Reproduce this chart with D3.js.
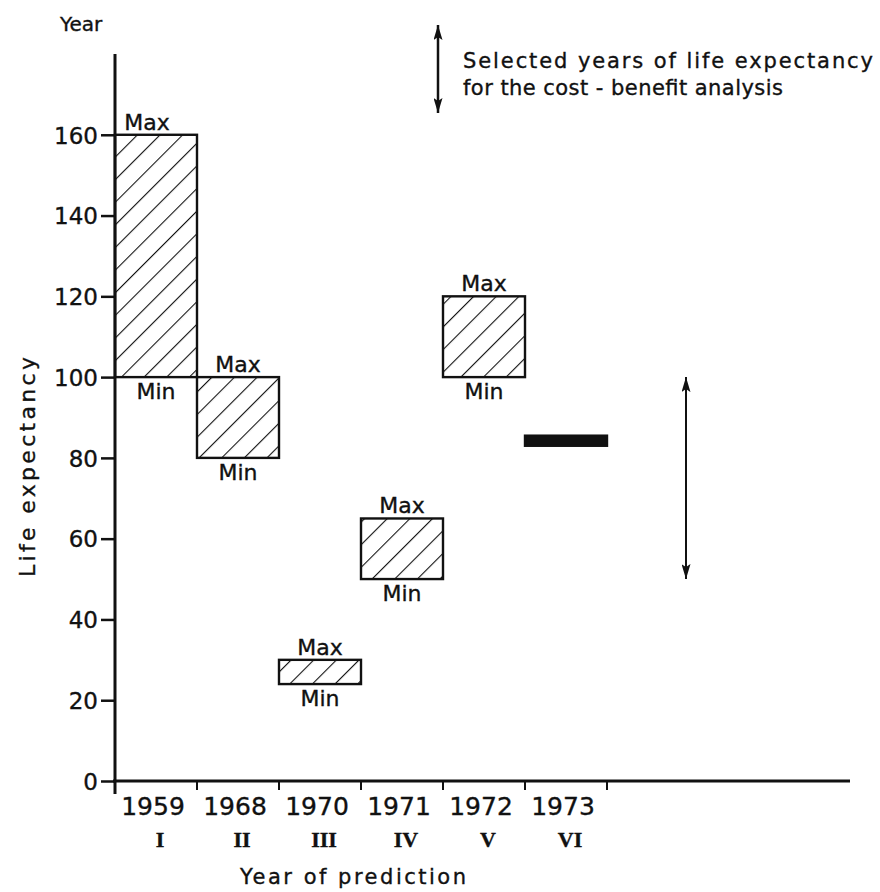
<!DOCTYPE html>
<html>
<head>
<meta charset="utf-8">
<script src="https://cdn.jsdelivr.net/npm/d3@7"></script>
<style>
  body { margin: 0; background: #fff; }
  svg text { font-family: "DejaVu Sans", sans-serif; fill: #111; stroke: #111; stroke-width: 0.35; }
</style>
</head>
<body>
<div id="chart"></div>
<script>
// === DATA ===
const years = ["1959", "1968", "1970", "1971", "1972", "1973"];
const numerals = ["I", "II", "III", "IV", "V", "VI"];
const minValues = [100, 80, 24, 50, 100, 83];
const maxValues = [160, 100, 30, 65, 120, 85.5];
const yTicks = [0, 20, 40, 60, 80, 100, 120, 140, 160];
const selectedRange = [50, 100];

const bars = years.map((y, i) => ({ year: y, num: numerals[i], min: minValues[i], max: maxValues[i] }));

// === LAYOUT ===
const width = 880, height = 892;
const x0 = 115, y0 = 781;

const svg = d3.select("#chart").append("svg")
    .attr("width", width)
    .attr("height", height);

const x = d3.scaleBand().domain(years).range([x0, 607]).padding(0);
const y = d3.scaleLinear().domain([0, 180]).range([y0, 54]);

// hatch pattern + arrow heads
const defs = svg.append("defs");
defs.append("pattern")
    .attr("id", "hatch")
    .attr("patternUnits", "userSpaceOnUse")
    .attr("width", 16).attr("height", 16)
    .attr("patternTransform", "rotate(45)")
    .append("line")
    .attr("x1", 0).attr("y1", 0).attr("x2", 0).attr("y2", 16)
    .attr("stroke", "#111").attr("stroke-width", 2.2);

["start", "end"].forEach(k => {
    defs.append("marker")
        .attr("id", "head-" + k)
        .attr("viewBox", "0 0 10 10")
        .attr("preserveAspectRatio", "none")
        .attr("refX", 10).attr("refY", 5)
        .attr("markerWidth", 15).attr("markerHeight", 9)
        .attr("markerUnits", "userSpaceOnUse")
        .attr("orient", k === "start" ? "auto-start-reverse" : "auto")
        .append("path")
        .attr("d", "M0,0 L10,5 L0,10 L2,5 Z")
        .attr("fill", "#111");
});

// === AXES ===
const yAxis = d3.axisLeft(y).tickValues(yTicks).tickSize(14).tickSizeOuter(0).tickPadding(3);
const gy = svg.append("g").attr("transform", `translate(${x0},0)`).call(yAxis);
gy.select(".domain").remove();
gy.selectAll(".tick line").attr("stroke", "#111").attr("stroke-width", 2.5);
gy.selectAll(".tick text").attr("font-size", 23).attr("dy", "0.36em")
    .style("font-family", "DejaVu Sans");

// vertical axis line, slightly past 0 like the drawing
svg.append("line")
    .attr("x1", x0).attr("x2", x0)
    .attr("y1", y(180)).attr("y2", y0 + 13)
    .attr("stroke", "#111").attr("stroke-width", 3);

// horizontal axis
svg.append("line")
    .attr("x1", x0 - 2).attr("x2", 850)
    .attr("y1", y0).attr("y2", y0)
    .attr("stroke", "#111").attr("stroke-width", 3);

// ticks between year bands
svg.append("g").selectAll("line")
    .data(years)
    .enter().append("line")
    .attr("x1", d => x(d) + x.bandwidth())
    .attr("x2", d => x(d) + x.bandwidth())
    .attr("y1", y0).attr("y2", y0 + 9)
    .attr("stroke", "#111").attr("stroke-width", 2);

const xl = svg.append("g").selectAll("g")
    .data(bars)
    .enter().append("g")
    .attr("transform", d => `translate(${x(d.year) + x.bandwidth() / 2},0)`);

xl.append("text")
    .attr("y", 815)
    .attr("text-anchor", "middle")
    .attr("font-size", 25)
    .attr("dx", -3)
    .text(d => d.year);

xl.append("text")
    .attr("y", 847)
    .attr("dx", 4)
    .attr("text-anchor", "middle")
    .attr("font-size", 22)
    .attr("font-weight", "bold")
    .style("font-family", "Liberation Serif")
    .text(d => d.num);

// axis titles
svg.append("text")
    .attr("x", 240).attr("y", 884)
    .attr("font-size", 21)
    .attr("textLength", 226).attr("lengthAdjust", "spacing")
    .text("Year of prediction");

svg.append("text")
    .attr("transform", "translate(35,467) rotate(-90)")
    .attr("text-anchor", "middle")
    .attr("font-size", 22)
    .attr("textLength", 220).attr("lengthAdjust", "spacing")
    .text("Life expectancy");

svg.append("text")
    .attr("x", 60).attr("y", 31)
    .attr("font-size", 20)
    .text("Year");

// === BARS ===
const bar = svg.append("g").selectAll("g")
    .data(bars)
    .enter().append("g");

bar.append("rect")
    .attr("x", d => x(d.year))
    .attr("y", d => y(d.max))
    .attr("width", x.bandwidth())
    .attr("height", d => y(d.min) - y(d.max))
    .attr("fill", d => d.year === "1973" ? "#111" : "url(#hatch)")
    .attr("stroke", "#111")
    .attr("stroke-width", 2.4);

const labelled = bar.filter(d => d.year !== "1973");

labelled.append("text")
    .attr("x", (d, i) => x(d.year) + x.bandwidth() / 2 + (i === 0 ? -9 : 0))
    .attr("y", d => y(d.max) - 5)
    .attr("text-anchor", "middle")
    .attr("font-size", 22)
    .text("Max");

labelled.append("text")
    .attr("x", d => x(d.year) + x.bandwidth() / 2)
    .attr("y", d => y(d.min) + 22)
    .attr("text-anchor", "middle")
    .attr("font-size", 22)
    .text("Min");

// === SELECTED RANGE ARROW ===
svg.append("line")
    .attr("x1", 686).attr("x2", 686)
    .attr("y1", y(selectedRange[1])).attr("y2", y(selectedRange[0]))
    .attr("stroke", "#111").attr("stroke-width", 2)
    .attr("marker-start", "url(#head-start)")
    .attr("marker-end", "url(#head-end)");

// legend
svg.append("line")
    .attr("x1", 438).attr("x2", 438)
    .attr("y1", 25).attr("y2", 113)
    .attr("stroke", "#111").attr("stroke-width", 2.5)
    .attr("marker-start", "url(#head-start)")
    .attr("marker-end", "url(#head-end)");

svg.append("text")
    .attr("x", 463).attr("y", 68)
    .attr("font-size", 21)
    .attr("textLength", 410).attr("lengthAdjust", "spacing")
    .text("Selected years of life expectancy");

svg.append("text")
    .attr("x", 463).attr("y", 95)
    .attr("font-size", 21)
    .attr("textLength", 320).attr("lengthAdjust", "spacing")
    .text("for the cost - benefit analysis");
</script>
</body>
</html>
